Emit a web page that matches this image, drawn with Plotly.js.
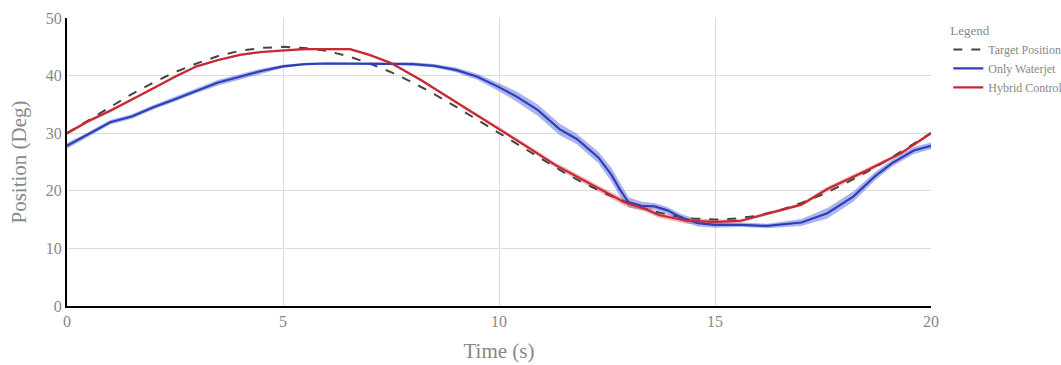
<!DOCTYPE html>
<html>
<head>
<meta charset="utf-8">
<script src="https://cdn.plot.ly/plotly-3.0.1.min.js"></script>
<style>
  html, body { margin: 0; padding: 0; background: #fff; }
  #chart { width: 1061px; height: 365px; }
</style>
</head>
<body>
<div id="chart"></div>
<script>
// Target trajectory (deg)
const targetTime = [0, 0.5, 1, 1.5, 2, 2.5, 3, 3.5, 4, 4.5, 5, 5.5, 6, 6.5, 7, 7.5, 8, 8.5, 9, 9.5, 10,
  10.5, 11, 11.5, 12, 12.5, 13, 13.5, 14, 14.5, 15, 15.5, 16, 16.5, 17, 17.5, 18, 18.5, 19, 19.5, 20];
const targetPos = [30, 32.3, 34.6, 36.8, 38.8, 40.6, 42.1, 43.4, 44.3, 44.8, 45, 44.8, 44.3, 43.4, 42.1, 40.6,
  38.8, 36.8, 34.6, 32.3, 30, 27.7, 25.4, 23.2, 21.2, 19.4, 17.9, 16.6, 15.7, 15.2, 15, 15.2, 15.7, 16.6,
  17.9, 19.4, 21.2, 23.2, 25.4, 27.7, 30];

// Only waterjet: mean position and spread
const jetTime = [0, 0.5, 1, 1.5, 2, 2.5, 3, 3.5, 4, 4.5, 5, 5.5, 6, 7, 7.5, 8, 8.5, 9, 9.5, 10, 10.4, 10.9,
  11.4, 11.8, 12.3, 12.6, 12.8, 13.0, 13.3, 13.6, 13.9, 14.2, 14.6, 15, 15.6, 16.2, 17, 17.6, 18.2, 18.7,
  19.1, 19.6, 20];
const jetPos = [27.8, 29.8, 31.9, 32.9, 34.5, 35.9, 37.4, 38.8, 39.8, 40.8, 41.6, 42.0, 42.1, 42.1, 42.1,
  42.0, 41.7, 41.0, 39.8, 38.0, 36.4, 34.0, 30.7, 29.0, 25.8, 22.8, 20.2, 18.0, 17.4, 17.3, 16.6, 15.4, 14.4,
  14.1, 14.1, 13.9, 14.5, 16.1, 19.0, 22.5, 24.8, 27.0, 27.8];
const jetSpread = [0.5, 0.4, 0.4, 0.4, 0.4, 0.4, 0.4, 0.5, 0.5, 0.4, 0.3, 0.2, 0.2, 0.2, 0.2, 0.3, 0.3, 0.4,
  0.5, 0.7, 0.9, 1.0, 1.0, 0.9, 1.0, 1.2, 1.2, 0.9, 0.7, 0.6, 0.6, 0.6, 0.6, 0.5, 0.4, 0.4, 0.6, 0.9, 0.9,
  0.7, 0.6, 0.6, 0.6];

// Hybrid control: mean position and spread
const hybridTime = [0, 0.5, 1, 1.5, 2, 2.5, 3, 3.5, 4, 4.5, 5, 5.5, 6, 6.55, 7, 7.5, 8.2, 8.8, 9.3, 10, 10.7,
  11.3, 11.6, 12.3, 12.9, 13.4, 13.7, 14.35, 15, 15.6, 16.2, 17, 17.6, 18.5, 19.3, 20];
const hybridPos = [30, 32.1, 33.9, 35.8, 37.8, 39.8, 41.6, 42.7, 43.6, 44.1, 44.4, 44.6, 44.6, 44.6, 43.6,
  42.2, 39.2, 36.4, 34.0, 30.8, 27.4, 24.5, 23.3, 20.4, 18.0, 16.8, 15.8, 14.8, 14.6, 14.8, 16.0, 17.6, 20.3,
  23.5, 26.5, 30.0];
const hybridSpread = [0.3, 0.3, 0.3, 0.2, 0.2, 0.2, 0.2, 0.2, 0.2, 0.2, 0.2, 0.2, 0.2, 0.2, 0.2, 0.2, 0.2,
  0.3, 0.3, 0.3, 0.3, 0.4, 0.5, 0.5, 0.6, 0.5, 0.5, 0.5, 0.4, 0.3, 0.3, 0.3, 0.4, 0.4, 0.3, 0.3];

const seriesNames = ['Target Position', 'Only Waterjet', 'Hybrid Control'];

const blue = 'rgb(45,62,190)';
const red = 'rgb(200,40,50)';

function band(t, m, s, color) {
  const upper = m.map((v, i) => v + s[i]);
  const lower = m.map((v, i) => v - s[i]);
  return [
    { x: t, y: upper, mode: 'lines', line: { width: 0 }, showlegend: false, hoverinfo: 'skip' },
    { x: t, y: lower, mode: 'lines', line: { width: 0 }, fill: 'tonexty', fillcolor: color,
      showlegend: false, hoverinfo: 'skip' }
  ];
}

const traces = [
  ...band(jetTime, jetPos, jetSpread, 'rgba(70,90,210,0.45)'),
  ...band(hybridTime, hybridPos, hybridSpread, 'rgba(215,80,85,0.4)'),
  { x: targetTime, y: targetPos, name: seriesNames[0], mode: 'lines',
    line: { color: '#444', width: 2, dash: 'dash' } },
  { x: jetTime, y: jetPos, name: seriesNames[1], mode: 'lines',
    line: { color: blue, width: 2.2 } },
  { x: hybridTime, y: hybridPos, name: seriesNames[2], mode: 'lines',
    line: { color: red, width: 2.2 } }
];

const serif = '"Liberation Serif", "DejaVu Serif", serif';

const layout = {
  width: 1061, height: 365,
  margin: { l: 67, r: 130, t: 18, b: 59, autoexpand: false },
  paper_bgcolor: '#fff', plot_bgcolor: '#fff',
  font: { family: serif, color: '#888' },
  xaxis: {
    range: [0, 20], tickvals: [0, 5, 10, 15, 20], ticks: '',
    showgrid: true, gridcolor: '#dcdcdc', gridwidth: 1, zeroline: false,
    showline: true, linecolor: '#000', linewidth: 2,
    tickfont: { family: serif, size: 16, color: '#888' },
    title: { text: 'Time (s)', font: { family: serif, size: 21, color: '#888' }, standoff: 14 }
  },
  yaxis: {
    range: [0, 50], tickvals: [0, 10, 20, 30, 40, 50], ticks: '',
    showgrid: true, gridcolor: '#dcdcdc', gridwidth: 1, zeroline: false,
    showline: true, linecolor: '#000', linewidth: 2,
    tickfont: { family: serif, size: 16, color: '#888' },
    title: { text: 'Position (Deg)', font: { family: serif, size: 21, color: '#888' }, standoff: 13 }
  },
  legend: {
    x: 1.02, y: 1.0, xanchor: 'left', yanchor: 'top', traceorder: 'normal',
    font: { family: serif, size: 12, color: '#888' },
    title: { text: 'Legend', font: { family: serif, size: 13, color: '#888' } },
    bgcolor: 'rgba(0,0,0,0)', tracegroupgap: 0
  },
  showlegend: true
};

Plotly.newPlot('chart', traces, layout, { displayModeBar: false, staticPlot: true });
</script>
</body>
</html>
